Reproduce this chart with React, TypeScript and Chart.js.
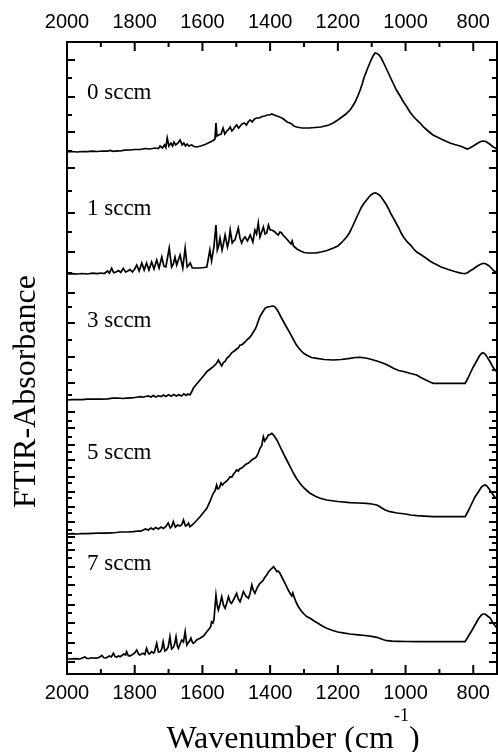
import React, { useEffect, useRef } from 'react';
import { Chart, registerables } from 'chart.js';

Chart.register(...registerables);

// ---------------- data ----------------
const panelLabels = ['0 sccm', '1 sccm', '3 sccm', '5 sccm', '7 sccm'];
const panelOffsets = [5.22, 4.0, 2.74, 1.4, 0.15];

const xTickValues = [2000, 1900, 1800, 1700, 1600, 1500, 1400, 1300, 1200, 1100, 1000, 900, 800];
const yTickValues = [
  6.14, 5.96, 5.77, 5.59, 5.42, 5.23, 5.06, 4.83, 4.61, 4.42, 4.22, 4.01, 3.81, 3.67, 3.51, 3.34, 3.17,
  3.04, 2.91, 2.79, 2.62, 2.53, 2.46, 2.37, 2.29, 2.22, 2.14, 2.06, 1.97, 1.91, 1.82, 1.76, 1.67, 1.61,
  1.52, 1.44, 1.37, 1.31, 1.24, 1.16, 1.07, 0.97, 0.89, 0.79, 0.69, 0.61, 0.51, 0.41, 0.31, 0.21, 0.12,
];

const spectrum0: [number, number][] = [
  [2000,0],[1985,0.005],[1970,0],[1955,0.005],[1940,0.003],[1925,0.008],[1910,0.005],[1895,0.01],[1880,0.008],[1873,0.015],[1864,0.007],[1850,0.012],[1843,0.01],[1830,0.018],[1814,0.02],[1800,0.025],[1784,0.025],[1770,0.035],[1755,0.03],[1740,0.04],[1730,0.035],[1725,0.06],[1718,0.04],[1712,0.07],[1708,0.045],[1704,0.14],[1699,0.06],[1693,0.09],[1688,0.06],[1684,0.1],[1679,0.07],[1672,0.09],[1666,0.12],[1660,0.07],[1655,0.09],[1650,0.06],[1645,0.08],[1640,0.06],[1632,0.07],[1625,0.055],[1617,0.05],[1605,0.06],[1592,0.075],[1580,0.095],[1568,0.115],[1563,0.13],[1560,0.29],[1557,0.16],[1552,0.17],[1545,0.18],[1539,0.24],[1534,0.18],[1528,0.21],[1524,0.22],[1518,0.25],[1513,0.21],[1508,0.23],[1504,0.25],[1499,0.27],[1493,0.24],[1488,0.26],[1483,0.28],[1476,0.29],[1470,0.27],[1465,0.3],[1459,0.32],[1453,0.3],[1446,0.33],[1440,0.34],[1432,0.34],[1424,0.355],[1416,0.36],[1409,0.37],[1402,0.37],[1395,0.38],[1388,0.37],[1380,0.36],[1372,0.35],[1365,0.34],[1357,0.32],[1350,0.3],[1342,0.29],[1336,0.28],[1330,0.26],[1322,0.25],[1306,0.24],[1285,0.24],[1267,0.245],[1250,0.25],[1238,0.26],[1226,0.27],[1214,0.29],[1200,0.32],[1188,0.35],[1176,0.38],[1164,0.42],[1156,0.46],[1149,0.5],[1141,0.56],[1134,0.62],[1128,0.68],[1123,0.74],[1114,0.82],[1108,0.87],[1102,0.92],[1096,0.96],[1090,0.99],[1084,0.985],[1078,0.97],[1072,0.94],[1066,0.9],[1059,0.85],[1052,0.8],[1044,0.74],[1037,0.69],[1027,0.62],[1016,0.56],[1006,0.5],[996,0.45],[987,0.4],[978,0.36],[967,0.32],[957,0.29],[947,0.25],[937,0.22],[928,0.195],[919,0.17],[907,0.15],[895,0.13],[882,0.11],[869,0.09],[855,0.075],[839,0.06],[828,0.045],[818,0.03],[810,0.04],[800,0.06],[793,0.075],[786,0.09],[778,0.105],[771,0.11],[763,0.105],[756,0.09],[748,0.07],[741,0.05],[735,0.04],[730,0.03],
];

const spectrum1: [number, number][] = [
  [2000,0],[1985,0.003],[1970,0],[1955,0.005],[1940,0],[1925,0.008],[1910,0.003],[1900,0.01],[1890,0.005],[1880,0.03],[1875,0.008],[1868,0.057],[1862,0.012],[1855,0.02],[1848,0.035],[1841,0.015],[1834,0.057],[1827,0.02],[1820,0.03],[1814,0.045],[1807,0.02],[1800,0.05],[1794,0.09],[1787,0.03],[1779,0.11],[1772,0.04],[1765,0.11],[1758,0.04],[1750,0.12],[1743,0.05],[1735,0.14],[1728,0.06],[1720,0.17],[1714,0.08],[1708,0.07],[1698,0.26],[1691,0.07],[1686,0.1],[1681,0.17],[1676,0.09],[1671,0.14],[1666,0.19],[1658,0.06],[1651,0.26],[1645,0.07],[1640,0.09],[1636,0.11],[1630,0.06],[1620,0.06],[1607,0.06],[1595,0.065],[1587,0.07],[1578,0.24],[1573,0.13],[1566,0.27],[1560,0.49],[1556,0.24],[1552,0.28],[1548,0.36],[1542,0.24],[1538,0.3],[1533,0.39],[1526,0.27],[1522,0.33],[1518,0.44],[1512,0.31],[1508,0.33],[1504,0.34],[1499,0.4],[1494,0.46],[1489,0.36],[1484,0.31],[1479,0.35],[1474,0.37],[1467,0.33],[1459,0.39],[1451,0.32],[1445,0.44],[1440,0.4],[1435,0.51],[1430,0.37],[1425,0.42],[1420,0.47],[1415,0.4],[1410,0.41],[1405,0.49],[1400,0.44],[1395,0.44],[1390,0.43],[1386,0.42],[1380,0.4],[1376,0.39],[1371,0.42],[1366,0.41],[1360,0.38],[1356,0.37],[1351,0.35],[1346,0.33],[1341,0.31],[1338,0.3],[1335,0.33],[1331,0.28],[1321,0.25],[1310,0.23],[1300,0.215],[1288,0.21],[1277,0.21],[1264,0.212],[1250,0.22],[1232,0.235],[1213,0.26],[1200,0.28],[1190,0.31],[1182,0.34],[1174,0.37],[1166,0.41],[1160,0.45],[1152,0.51],[1144,0.57],[1137,0.62],[1130,0.67],[1122,0.71],[1115,0.74],[1108,0.77],[1102,0.79],[1096,0.805],[1090,0.81],[1084,0.805],[1078,0.79],[1072,0.77],[1066,0.74],[1058,0.7],[1050,0.65],[1043,0.6],[1036,0.56],[1028,0.51],[1020,0.46],[1013,0.41],[1006,0.37],[995,0.32],[985,0.29],[976,0.25],[967,0.22],[953,0.19],[940,0.16],[928,0.13],[918,0.11],[906,0.09],[895,0.07],[882,0.055],[869,0.04],[855,0.025],[840,0.012],[830,0.005],[824,0.003],[816,0.015],[810,0.03],[800,0.05],[790,0.075],[780,0.095],[770,0.107],[762,0.1],[755,0.085],[747,0.06],[740,0.035],[730,0.01],
];

const spectrum3: [number, number][] = [
  [2000,0],[1985,0.003],[1970,0.005],[1955,0.003],[1940,0.008],[1920,0.01],[1900,0.008],[1880,0.012],[1865,0.018],[1850,0.02],[1835,0.015],[1824,0.018],[1810,0.022],[1800,0.025],[1790,0.03],[1784,0.033],[1776,0.028],[1768,0.035],[1760,0.04],[1752,0.03],[1745,0.045],[1738,0.03],[1730,0.042],[1722,0.035],[1715,0.05],[1708,0.035],[1700,0.052],[1692,0.038],[1685,0.056],[1677,0.04],[1670,0.052],[1662,0.04],[1655,0.062],[1648,0.045],[1643,0.06],[1637,0.05],[1632,0.08],[1627,0.117],[1617,0.16],[1607,0.2],[1597,0.24],[1587,0.283],[1577,0.31],[1568,0.333],[1560,0.36],[1556,0.38],[1553,0.4],[1548,0.37],[1543,0.34],[1538,0.375],[1533,0.385],[1528,0.417],[1520,0.44],[1514,0.47],[1509,0.483],[1504,0.495],[1499,0.51],[1494,0.52],[1489,0.55],[1484,0.55],[1479,0.565],[1474,0.58],[1469,0.6],[1464,0.615],[1459,0.63],[1454,0.655],[1449,0.683],[1444,0.71],[1440,0.74],[1435,0.79],[1430,0.833],[1422,0.88],[1415,0.917],[1408,0.93],[1400,0.935],[1393,0.94],[1387,0.935],[1382,0.915],[1376,0.883],[1368,0.83],[1360,0.78],[1350,0.72],[1341,0.667],[1332,0.61],[1325,0.565],[1317,0.525],[1308,0.49],[1300,0.465],[1290,0.445],[1278,0.425],[1262,0.417],[1240,0.405],[1213,0.4],[1190,0.405],[1164,0.417],[1148,0.425],[1134,0.427],[1118,0.42],[1105,0.41],[1095,0.4],[1080,0.385],[1060,0.36],[1045,0.335],[1036,0.317],[1020,0.295],[1000,0.28],[985,0.265],[967,0.25],[955,0.225],[940,0.2],[928,0.18],[918,0.167],[900,0.167],[870,0.167],[845,0.167],[824,0.167],[817,0.21],[810,0.26],[800,0.33],[790,0.39],[782,0.44],[776,0.465],[771,0.473],[765,0.46],[758,0.425],[750,0.38],[742,0.33],[736,0.3],[730,0.28],
];

const spectrum5: [number, number][] = [
  [2000,0],[1985,0.003],[1970,0],[1955,0.005],[1940,0.003],[1925,0.006],[1902,0.01],[1885,0.008],[1870,0.012],[1855,0.015],[1840,0.02],[1820,0.02],[1804,0.023],[1790,0.03],[1782,0.028],[1775,0.04],[1768,0.05],[1760,0.04],[1752,0.06],[1745,0.045],[1738,0.065],[1730,0.05],[1722,0.07],[1715,0.055],[1708,0.075],[1701,0.11],[1695,0.06],[1690,0.08],[1686,0.123],[1680,0.07],[1673,0.09],[1666,0.08],[1660,0.1],[1656,0.14],[1650,0.08],[1645,0.09],[1641,0.11],[1637,0.073],[1632,0.085],[1627,0.1],[1617,0.135],[1607,0.173],[1597,0.215],[1587,0.257],[1578,0.323],[1568,0.407],[1563,0.43],[1558,0.49],[1555,0.45],[1550,0.46],[1545,0.51],[1541,0.49],[1536,0.51],[1528,0.53],[1523,0.55],[1518,0.573],[1513,0.57],[1508,0.6],[1503,0.62],[1499,0.64],[1494,0.63],[1490,0.65],[1484,0.66],[1479,0.673],[1474,0.69],[1470,0.7],[1464,0.71],[1459,0.723],[1454,0.74],[1450,0.75],[1445,0.76],[1440,0.773],[1435,0.81],[1430,0.857],[1425,0.88],[1420,0.973],[1416,0.93],[1410,0.96],[1405,0.99],[1400,0.995],[1395,1.007],[1390,0.99],[1385,0.965],[1380,0.94],[1375,0.905],[1370,0.87],[1361,0.807],[1351,0.74],[1341,0.673],[1331,0.607],[1322,0.555],[1312,0.507],[1300,0.46],[1290,0.43],[1282,0.407],[1265,0.375],[1250,0.355],[1233,0.34],[1200,0.325],[1164,0.313],[1140,0.31],[1115,0.307],[1100,0.3],[1085,0.29],[1078,0.278],[1070,0.26],[1060,0.24],[1046,0.223],[1025,0.21],[1000,0.2],[985,0.19],[967,0.183],[945,0.178],[918,0.173],[890,0.173],[860,0.173],[840,0.173],[824,0.173],[815,0.23],[805,0.3],[795,0.37],[785,0.42],[776,0.47],[770,0.485],[765,0.49],[760,0.48],[754,0.455],[748,0.425],[741,0.39],[735,0.365],[730,0.357],
];

const spectrum7: [number, number][] = [
  [2000,0],[1991,0],[1975,0.003],[1962,0],[1955,0.01],[1947,0.02],[1941,0.005],[1935,0.005],[1928,0.012],[1922,0.01],[1915,0.008],[1910,0.01],[1903,0.02],[1897,0.035],[1891,0.012],[1885,0.01],[1880,0.02],[1875,0.03],[1869,0.02],[1863,0.057],[1858,0.025],[1853,0.02],[1848,0.03],[1843,0.023],[1838,0.035],[1832,0.05],[1827,0.04],[1824,0.073],[1819,0.035],[1815,0.03],[1809,0.04],[1804,0.05],[1800,0.06],[1794,0.09],[1789,0.05],[1785,0.04],[1780,0.05],[1775,0.057],[1770,0.045],[1765,0.107],[1760,0.06],[1757,0.05],[1750,0.073],[1745,0.06],[1742,0.065],[1735,0.157],[1730,0.07],[1725,0.073],[1720,0.1],[1716,0.173],[1711,0.08],[1706,0.09],[1701,0.12],[1696,0.223],[1691,0.1],[1686,0.117],[1682,0.15],[1678,0.223],[1674,0.13],[1671,0.107],[1666,0.15],[1661,0.19],[1656,0.17],[1651,0.273],[1646,0.14],[1643,0.157],[1638,0.18],[1634,0.21],[1630,0.17],[1627,0.157],[1622,0.17],[1617,0.19],[1612,0.2],[1607,0.207],[1597,0.23],[1587,0.273],[1578,0.31],[1575,0.33],[1573,0.373],[1569,0.36],[1566,0.39],[1560,0.64],[1556,0.53],[1553,0.49],[1548,0.55],[1543,0.623],[1538,0.54],[1533,0.507],[1528,0.56],[1523,0.623],[1518,0.57],[1514,0.557],[1507,0.6],[1499,0.657],[1494,0.6],[1489,0.573],[1484,0.62],[1479,0.673],[1472,0.63],[1464,0.607],[1459,0.66],[1454,0.74],[1450,0.69],[1445,0.657],[1441,0.69],[1437,0.72],[1430,0.757],[1425,0.77],[1420,0.79],[1415,0.82],[1410,0.84],[1405,0.87],[1400,0.89],[1395,0.905],[1390,0.923],[1385,0.9],[1380,0.873],[1376,0.88],[1371,0.857],[1364,0.81],[1356,0.757],[1348,0.7],[1341,0.657],[1336,0.63],[1333,0.66],[1329,0.62],[1325,0.58],[1317,0.525],[1308,0.48],[1300,0.45],[1292,0.425],[1282,0.407],[1270,0.38],[1260,0.36],[1246,0.33],[1233,0.307],[1215,0.285],[1200,0.27],[1180,0.258],[1164,0.25],[1140,0.242],[1120,0.235],[1100,0.226],[1085,0.217],[1075,0.205],[1065,0.193],[1055,0.183],[1040,0.178],[1020,0.176],[1000,0.175],[967,0.173],[930,0.173],[900,0.173],[870,0.173],[845,0.173],[824,0.173],[816,0.22],[805,0.28],[795,0.34],[785,0.4],[776,0.44],[770,0.45],[765,0.45],[758,0.43],[750,0.41],[745,0.38],[741,0.357],[735,0.33],[730,0.31],
];

const spectra = [spectrum0, spectrum1, spectrum3, spectrum5, spectrum7];

// ---------------- layout constants ----------------
const X_MIN = 730;
const X_MAX = 2000;
const Y_MIN = 0;
const Y_MAX = 6.32;
const labelAnchorX = 1941;
const labelAnchorY = [5.75, 4.59, 3.47, 2.15, 1.04];

const SERIF = '"Liberation Serif", "Times New Roman", serif';
const SANS = '"Liberation Sans", Arial, sans-serif';

const decorPlugin = {
  id: 'ftirDecor',
  afterDraw(chart: any) {
    const { ctx, chartArea, scales } = chart;
    const xs = scales.x;
    const ys = scales.y;
    ctx.save();
    ctx.strokeStyle = '#000';
    ctx.lineWidth = 2;
    ctx.beginPath();
    xs.ticks.forEach((t: any) => {
      const px = xs.getPixelForValue(t.value);
      const len = t.value % 200 === 0 ? 9 : 5;
      ctx.moveTo(px, chartArea.top);
      ctx.lineTo(px, chartArea.top + len);
      ctx.moveTo(px, chartArea.bottom);
      ctx.lineTo(px, chartArea.bottom - len);
    });
    ys.ticks.forEach((t: any, i: number) => {
      const py = ys.getPixelForValue(t.value);
      const len = i % 2 === 0 ? 8 : 5;
      ctx.moveTo(chartArea.left, py);
      ctx.lineTo(chartArea.left + len, py);
      ctx.moveTo(chartArea.right, py);
      ctx.lineTo(chartArea.right - len, py);
    });
    ctx.stroke();

    ctx.fillStyle = '#000';
    ctx.font = `23px ${SERIF}`;
    ctx.textAlign = 'left';
    ctx.textBaseline = 'alphabetic';
    panelLabels.forEach((s, i) => {
      ctx.fillText(s, xs.getPixelForValue(labelAnchorX), ys.getPixelForValue(labelAnchorY[i]));
    });

    // y title
    ctx.save();
    ctx.font = `32px ${SERIF}`;
    ctx.translate(35, 391.5);
    ctx.rotate(-Math.PI / 2);
    ctx.textAlign = 'center';
    ctx.fillText('FTIR-Absorbance', 0, 0);
    ctx.restore();

    // x title with superscript
    const main = 'Wavenumber (cm';
    const sup = '-1';
    const end = ')';
    ctx.font = `32px ${SERIF}`;
    const wMain = ctx.measureText(main).width;
    const wEnd = ctx.measureText(end).width;
    ctx.font = `18px ${SERIF}`;
    const wSup = ctx.measureText(sup).width;
    const total = wMain + wSup + wEnd;
    let x0 = 293 - total / 2;
    const base = 748;
    ctx.textAlign = 'left';
    ctx.font = `32px ${SERIF}`;
    ctx.fillText(main, x0, base);
    x0 += wMain;
    ctx.font = `18px ${SERIF}`;
    ctx.fillText(sup, x0, base - 27);
    x0 += wSup;
    ctx.font = `32px ${SERIF}`;
    ctx.fillText(end, x0, base);
    ctx.restore();
  },
};

export default function App() {
  const ref = useRef<HTMLCanvasElement>(null);
  useEffect(() => {
    document.body.style.margin = '0';
    const tickSetter = (ax: any) => {
      ax.ticks = xTickValues.map((v) => ({ value: v }));
    };
    const ySetter = (ax: any) => {
      ax.ticks = yTickValues.map((v) => ({ value: v }));
    };
    const xTickLabel = (v: any) => (Number(v) % 200 === 0 ? String(v) : '');
    const chart = new Chart(ref.current as HTMLCanvasElement, {
      type: 'line',
      data: {
        datasets: spectra.map((s, i) => ({
          label: panelLabels[i],
          data: s.map(([w, a]) => ({ x: w, y: a + panelOffsets[i] })),
          borderColor: '#000',
          borderWidth: 1.7,
          pointRadius: 0,
          tension: 0,
          fill: false,
          xAxisID: 'x',
          yAxisID: 'y',
        })),
      },
      options: {
        animation: false,
        responsive: false,
        devicePixelRatio: 1,
        layout: { padding: 0 },
        plugins: { legend: { display: false }, tooltip: { enabled: false } },
        scales: {
          x: {
            type: 'linear',
            position: 'bottom',
            min: X_MIN,
            max: X_MAX,
            reverse: true,
            afterBuildTicks: tickSetter,
            afterFit: (ax: any) => { ax.height = 78; },
            ticks: { callback: xTickLabel, autoSkip: false, maxRotation: 0, padding: 7, color: '#000', font: { family: SANS, size: 20 } },
            grid: { display: false, drawTicks: false },
            border: { display: true, color: '#000', width: 2 },
          },
          x2: {
            type: 'linear',
            position: 'top',
            min: X_MIN,
            max: X_MAX,
            reverse: true,
            afterBuildTicks: tickSetter,
            afterFit: (ax: any) => { ax.height = 42; },
            ticks: { callback: xTickLabel, autoSkip: false, maxRotation: 0, padding: 8, color: '#000', font: { family: SANS, size: 20 } },
            grid: { display: false, drawTicks: false },
            border: { display: true, color: '#000', width: 2 },
          },
          y: {
            type: 'linear',
            position: 'left',
            min: Y_MIN,
            max: Y_MAX,
            afterBuildTicks: ySetter,
            afterFit: (ax: any) => { ax.width = 67; },
            ticks: { display: false },
            grid: { display: false, drawTicks: false },
            border: { display: true, color: '#000', width: 2 },
          },
          y2: {
            type: 'linear',
            position: 'right',
            min: Y_MIN,
            max: Y_MAX,
            afterBuildTicks: ySetter,
            afterFit: (ax: any) => { ax.width = 1; },
            ticks: { display: false },
            grid: { display: false, drawTicks: false },
            border: { display: true, color: '#000', width: 2 },
          },
        },
      } as any,
      plugins: [decorPlugin],
    });
    return () => chart.destroy();
  }, []);
  return (
    <div style={{ position: 'absolute', left: 0, top: 0, width: 498, height: 752, background: '#fff' }}>
      <canvas ref={ref} width={498} height={752} style={{ display: 'block', width: 498, height: 752 }} />
    </div>
  );
}
